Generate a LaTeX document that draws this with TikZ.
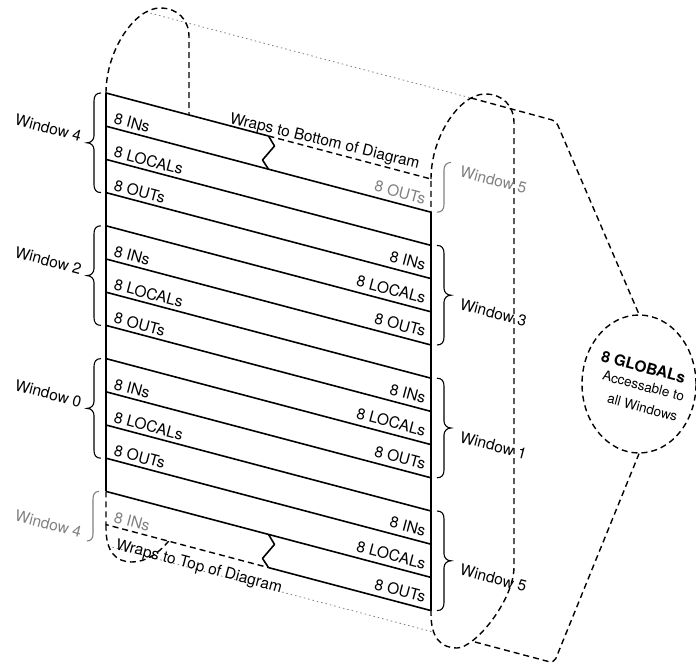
\documentclass[tikz,border=0pt]{standalone}
\usepackage{fontspec}
\setmainfont{TeX Gyre Heros}
\usetikzlibrary{calc,shapes.geometric}
% braces: #2 top, #3 tip, #4 bottom (image y, downward positive)
\newcommand\LBr[4][]{\draw[brc,#1] (101,-#2) .. controls (96,-#2) and (94,-#2-3) .. (94,-#2-8) -- (94,-#3+7) .. controls (94,-#3+3) and (91,-#3) .. (87,-#3) .. controls (91,-#3) and (94,-#3-3) .. (94,-#3-7) -- (94,-#4+8) .. controls (94,-#4+3) and (96,-#4) .. (101,-#4);}
\newcommand\RBr[4][]{\draw[brc,#1] (437,-#2) .. controls (442,-#2) and (444,-#2-3) .. (444,-#2-8) -- (444,-#3+7) .. controls (444,-#3+3) and (447,-#3) .. (451,-#3) .. controls (447,-#3) and (444,-#3-3) .. (444,-#3-7) -- (444,-#4+8) .. controls (444,-#4+3) and (442,-#4) .. (437,-#4);}
\begin{document}
\begin{tikzpicture}[x=1pt,y=1pt,
  every node/.style={inner sep=0pt, font=\fontsize{15.5}{18}\selectfont},
  wall/.style={line width=1.6pt, line join=round},
  dsh/.style={line width=1.4pt, dash pattern=on 6pt off 4pt},
  dots/.style={black!50, line width=0.8pt, dash pattern=on 1.5pt off 3pt},
  brc/.style={line width=1.1pt},
  ghost/.style={black!50},
  lab/.style={rotate=-14.8},
  llab/.style={lab, anchor=base west},
  rlab/.style={lab, anchor=base east},
  small/.style={font=\fontsize{13.5}{16}\selectfont}
  ]
\useasboundingbox (0,0) rectangle (696,-666);
\foreach \i in {0,...,13} {
  \coordinate (L\i) at (106,{-93-33.2*\i});
  \coordinate (R\i) at (431,{-179-33.2*\i});
}
\coordinate (Za) at ($(L0)!0.5!(R0)$);
\coordinate (Zb) at ($(L1)!0.5!(R1)$);
\coordinate (Zc) at ($(L12)!0.5!(R12)$);
\coordinate (Zd) at ($(L13)!0.5!(R13)$);

% gray dotted tangent lines of the cylinder
\coordinate (tA) at (146,-12); \coordinate (tB) at (471,-98);
\coordinate (bA) at (108,-546); \coordinate (bB) at (433,-632);
\draw[dots] (tA) -- (tB);
\draw[dots] (bA) -- (bB);

% left end cap
\draw[dsh] (L0) .. controls (106,-50) and (135,-8) .. (160,-8) .. controls (178,-8) and (189,-20) .. (189,-37) -- (189,-115);
\begin{scope}
\clip (0,-496.5) -- (696,-680.7) -- (696,-700) -- (0,-700) -- cycle;
\draw[dsh] (L13) -- (106,-528) .. controls (106,-552) and (116,-562) .. (132,-562) .. controls (160,-562) and (189,-525) .. (189,-481);
\end{scope}

% right end cap
\draw[dsh] (R0) .. controls (431,-136) and (460,-94) .. (485,-94) .. controls (503,-94) and (514,-106) .. (514,-123) -- (514,-567) .. controls (514,-600) and (475,-648) .. (457,-648) .. controls (441,-648) and (431,-638) .. (431,-614) -- (R13);

% globals
\node[draw, dsh, ellipse, minimum width=114pt, minimum height=138pt] (glob) at (639,-384) {};
\coordinate (gt) at (556,-121);
\coordinate (gb) at (554,-663);
\coordinate (ct) at (471,-98);
\coordinate (cb) at (475,-642);
\draw[dsh, rounded corners=5pt] (ct) -- (gt) -- (glob.north);
\draw[dsh, rounded corners=5pt] (cb) -- (gb) -- (glob.south);
\node[lab, font=\bfseries\fontsize{15.5}{18}\selectfont] (g1) at (643.5,-367) {8 GLOBALs};
\node[lab, small] (g2) at (643.5,-386) {Accessable to};
\node[lab, small] (g3) at (642.5,-407.5) {all Windows};

% register stack
\draw[wall] (L0) -- (Za);
\draw[dsh] (Za) -- (R0) -- (R1);
\draw[wall] (R1) -- (R13);
\draw[wall] (L0) -- (L12);
\draw[dsh] (L12) -- (L13) -- (Zd);
\draw[wall] (Zd) -- (R13);
\foreach \i in {1,...,12} \draw[wall] (L\i) -- (R\i);
\draw[wall] (Za) -- ++(6,-10) -- ++(-12,-14) -- (Zb);
\draw[wall] (Zc) -- ++(6,-10) -- ++(-12,-14) -- (Zd);

% left register labels
\node[llab] (l1) at (113,-123.6) {8 INs};
\node[llab] (l2) at (113,-156.8) {8 LOCALs};
\node[llab] (l3) at (113,-190.0) {8 OUTs};
\node[llab] (l5) at (113,-256.4) {8 INs};
\node[llab] (l6) at (113,-289.6) {8 LOCALs};
\node[llab] (l7) at (113,-322.8) {8 OUTs};
\node[llab] (l9) at (113,-389.2) {8 INs};
\node[llab] (l10) at (113,-422.4) {8 LOCALs};
\node[llab] (l11) at (113,-455.6) {8 OUTs};
\node[llab, ghost] (l13) at (113,-522.0) {8 INs};

% right register labels
\node[rlab, ghost] (r1) at (424,-204.2) {8 OUTs};
\node[rlab] (r3) at (424,-270.6) {8 INs};
\node[rlab] (r4) at (424,-303.8) {8 LOCALs};
\node[rlab] (r5) at (424,-337.0) {8 OUTs};
\node[rlab] (r7) at (424,-403.4) {8 INs};
\node[rlab] (r8) at (424,-436.6) {8 LOCALs};
\node[rlab] (r9) at (424,-469.8) {8 OUTs};
\node[rlab] (r11) at (424,-536.2) {8 INs};
\node[rlab] (r12) at (424,-569.4) {8 LOCALs};
\node[rlab] (r13) at (424,-602.6) {8 OUTs};

% wrap notes
\node[anchor=base west, rotate=-13.5] (wb) at (229,-123) {Wraps to Bottom of Diagram};
\node[llab] (wt) at (115,-549) {Wraps to Top of Diagram};

% braces
\LBr{93}{142.8}{192.6}
\LBr{225.8}{275.6}{325.4}
\LBr{358.6}{408.4}{458.2}
\draw[brc, ghost] (99,-491.4) .. controls (95,-491.4) and (93,-494) .. (93,-499) -- (93,-534) .. controls (93,-538) and (91,-541) .. (87,-541);
\RBr{245.4}{295.2}{345}
\RBr{378.2}{428}{477.8}
\RBr{511}{560.8}{610.6}
\draw[brc, ghost] (451,-162.4) .. controls (447,-162.4) and (444,-165.4) .. (444,-169.4) -- (444,-204.2) .. controls (444,-209.2) and (442,-212.2) .. (437,-212.2);

% window labels
\node[rlab] (w4) at (80,-141.8) {Window 4};
\node[rlab] (w2) at (80,-274.6) {Window 2};
\node[rlab] (w0) at (80,-407.4) {Window 0};
\node[rlab, ghost] (w4b) at (80,-538) {Window 4};
\node[llab, ghost] (w5t) at (459,-176.4) {Window 5};
\node[llab] (w3) at (459,-309.2) {Window 3};
\node[llab] (w1) at (459,-442) {Window 1};
\node[llab] (w5) at (459,-574.8) {Window 5};
\end{tikzpicture}
\end{document}
